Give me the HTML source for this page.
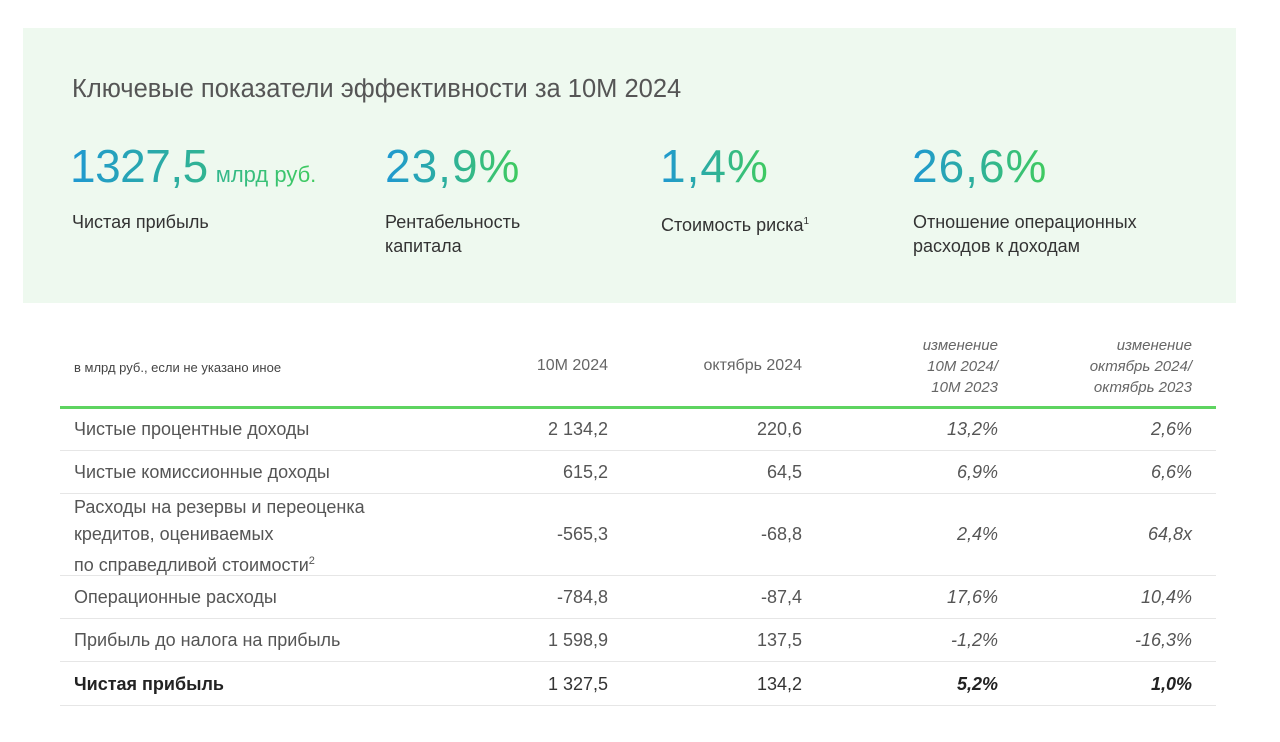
<!DOCTYPE html>
<html><head><meta charset="utf-8"><style>
body{margin:0;width:1280px;height:742px;background:#fff;font-family:"Liberation Sans",sans-serif;position:relative;overflow:hidden}
.a{position:absolute;white-space:nowrap}
.panel{position:absolute;left:23px;top:28px;width:1213px;height:275px;background:#eef9ef}
.big{font-size:46px;line-height:46px;background:linear-gradient(90deg,#1f98d2,#3fcb5e);-webkit-background-clip:text;background-clip:text;color:transparent;letter-spacing:1px}
.lab{font-size:18px;line-height:24px;color:#333}
.r{text-align:right}
.t{font-size:18px;color:#555;line-height:27px}
.h{font-size:15px;color:#666;font-style:italic;line-height:21px;text-align:right}
.line{position:absolute;left:60px;width:1156px;height:1px;background:#e6e6e6}
</style></head><body>
<div class="panel"></div>
<div class="a" style="left:72px;top:75px;font-size:25.5px;color:#555">Ключевые показатели эффективности за 10М 2024</div>
<div class="a big" style="left:70px;top:143px;letter-spacing:-0.5px">1327,5<span style="font-size:22px;letter-spacing:0;margin-left:8px">млрд руб.</span></div>
<div class="a big" style="left:385px;top:143px">23,9%</div>
<div class="a big" style="left:660px;top:143px">1,4%</div>
<div class="a big" style="left:912px;top:143px">26,6%</div>
<div class="a lab" style="left:72px;top:210px">Чистая прибыль</div>
<div class="a lab" style="left:385px;top:210px">Рентабельность<br>капитала</div>
<div class="a lab" style="left:661px;top:210px">Стоимость риска<sup style="font-size:10px">1</sup></div>
<div class="a lab" style="left:913px;top:210px">Отношение операционных<br>расходов к доходам</div>

<div class="a" style="left:74px;top:360px;font-size:13px;color:#444">в млрд руб., если не указано иное</div>
<div class="a" style="left:500px;width:108px;top:357px;font-size:16px;color:#666;text-align:right">10М 2024</div>
<div class="a" style="left:640px;width:162px;top:357px;font-size:16px;color:#666;text-align:right">октябрь 2024</div>
<div class="a h" style="left:850px;width:148px;top:335px">изменение<br>10М 2024/<br>10М 2023</div>
<div class="a h" style="left:1030px;width:162px;top:335px">изменение<br>октябрь 2024/<br>октябрь 2023</div>
<div style="position:absolute;left:60px;top:406px;width:1156px;height:3px;background:#5ed460"></div>

<div class="line" style="top:450px"></div>
<div class="line" style="top:493px"></div>
<div class="line" style="top:575px"></div>
<div class="line" style="top:618px"></div>
<div class="line" style="top:661px"></div>
<div class="line" style="top:705px"></div>

<div class="a t" style="left:74px;top:416px">Чистые процентные доходы</div>
<div class="a t" style="left:74px;top:459px">Чистые комиссионные доходы</div>
<div class="a t" style="left:74px;top:494px">Расходы на резервы и переоценка<br>кредитов, оцениваемых<br>по справедливой стоимости<sup style="font-size:11px">2</sup></div>
<div class="a t" style="left:74px;top:584px">Операционные расходы</div>
<div class="a t" style="left:74px;top:627px">Прибыль до налога на прибыль</div>
<div class="a t" style="left:74px;top:671px;font-weight:bold;color:#222">Чистая прибыль</div>

<div class="a t r" style="left:450px;width:158px;top:416px">2 134,2</div>
<div class="a t r" style="left:450px;width:158px;top:459px">615,2</div>
<div class="a t r" style="left:450px;width:158px;top:521px">-565,3</div>
<div class="a t r" style="left:450px;width:158px;top:584px">-784,8</div>
<div class="a t r" style="left:450px;width:158px;top:627px">1 598,9</div>
<div class="a t r" style="left:450px;width:158px;top:671px;color:#333">1 327,5</div>

<div class="a t r" style="left:650px;width:152px;top:416px">220,6</div>
<div class="a t r" style="left:650px;width:152px;top:459px">64,5</div>
<div class="a t r" style="left:650px;width:152px;top:521px">-68,8</div>
<div class="a t r" style="left:650px;width:152px;top:584px">-87,4</div>
<div class="a t r" style="left:650px;width:152px;top:627px">137,5</div>
<div class="a t r" style="left:650px;width:152px;top:671px;color:#333">134,2</div>

<div class="a t r" style="left:850px;width:148px;top:416px;font-style:italic">13,2%</div>
<div class="a t r" style="left:850px;width:148px;top:459px;font-style:italic">6,9%</div>
<div class="a t r" style="left:850px;width:148px;top:521px;font-style:italic">2,4%</div>
<div class="a t r" style="left:850px;width:148px;top:584px;font-style:italic">17,6%</div>
<div class="a t r" style="left:850px;width:148px;top:627px;font-style:italic">-1,2%</div>
<div class="a t r" style="left:850px;width:148px;top:671px;font-style:italic;font-weight:bold;color:#222">5,2%</div>

<div class="a t r" style="left:1040px;width:152px;top:416px;font-style:italic">2,6%</div>
<div class="a t r" style="left:1040px;width:152px;top:459px;font-style:italic">6,6%</div>
<div class="a t r" style="left:1040px;width:152px;top:521px;font-style:italic">64,8x</div>
<div class="a t r" style="left:1040px;width:152px;top:584px;font-style:italic">10,4%</div>
<div class="a t r" style="left:1040px;width:152px;top:627px;font-style:italic">-16,3%</div>
<div class="a t r" style="left:1040px;width:152px;top:671px;font-style:italic;font-weight:bold;color:#222">1,0%</div>
</body></html>
